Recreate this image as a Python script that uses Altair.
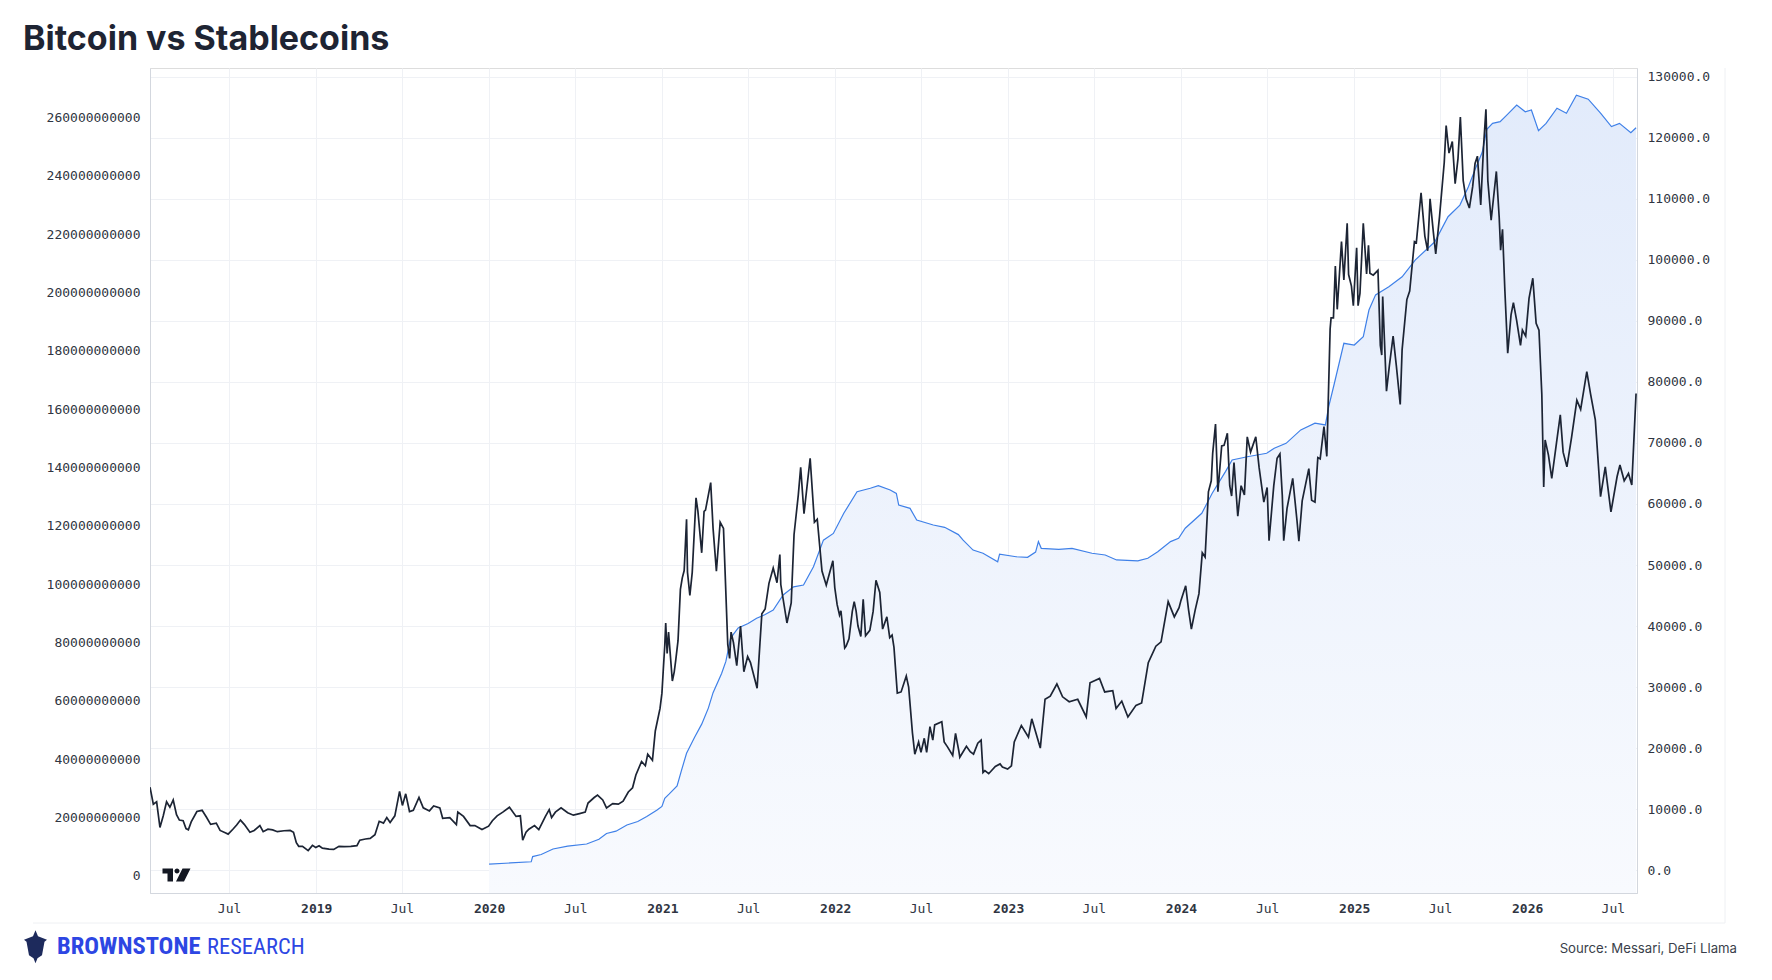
import altair as alt
import pandas as pd

# ---------------- data ----------------
btc_2018 = [
    ("2018-01-15", 13600), ("2018-01-22", 10800), ("2018-01-29", 11200), ("2018-02-05", 7000),
    ("2018-02-12", 8900), ("2018-02-19", 11200), ("2018-02-26", 10300), ("2018-03-05", 11500),
    ("2018-03-12", 9100), ("2018-03-18", 8200), ("2018-03-26", 8100), ("2018-04-01", 6800),
    ("2018-04-06", 6600), ("2018-04-12", 7900), ("2018-04-24", 9600), ("2018-05-05", 9800),
    ("2018-05-14", 8700), ("2018-05-23", 7500), ("2018-06-04", 7700), ("2018-06-12", 6500),
    ("2018-06-24", 6100), ("2018-06-29", 5900), ("2018-07-09", 6700), ("2018-07-17", 7400),
    ("2018-07-25", 8200), ("2018-08-02", 7500), ("2018-08-14", 6200), ("2018-08-23", 6500),
    ("2018-09-04", 7300), ("2018-09-11", 6300), ("2018-09-21", 6700), ("2018-10-01", 6600),
    ("2018-10-11", 6300), ("2018-10-25", 6450), ("2018-11-07", 6500), ("2018-11-14", 6200),
    ("2018-11-20", 4500), ("2018-11-25", 3900), ("2018-12-03", 3900), ("2018-12-15", 3200),
    ("2018-12-24", 4050), ("2018-12-31", 3700),
]
btc_2019 = [
    ("2019-01-07", 4000), ("2019-01-14", 3600), ("2019-01-28", 3450), ("2019-02-07", 3400),
    ("2019-02-18", 3900), ("2019-03-01", 3850), ("2019-03-15", 3900), ("2019-03-28", 4000),
    ("2019-04-03", 4900), ("2019-04-15", 5100), ("2019-04-25", 5200), ("2019-05-05", 5800),
    ("2019-05-14", 8000), ("2019-05-23", 7700), ("2019-05-30", 8600), ("2019-06-06", 7800),
    ("2019-06-16", 8900), ("2019-06-26", 12900), ("2019-07-02", 10600), ("2019-07-09", 12500),
    ("2019-07-17", 9600), ("2019-07-25", 9800), ("2019-08-06", 11900), ("2019-08-15", 10200),
    ("2019-08-28", 9700), ("2019-09-06", 10500), ("2019-09-19", 10200), ("2019-09-25", 8500),
    ("2019-10-10", 8600), ("2019-10-24", 7450), ("2019-10-27", 9500), ("2019-11-08", 8800),
    ("2019-11-22", 7300), ("2019-12-02", 7300), ("2019-12-17", 6650), ("2019-12-31", 7200),
]
btc_2020 = [
    ("2020-01-08", 8100), ("2020-01-18", 8900), ("2020-01-30", 9500), ("2020-02-13", 10300),
    ("2020-02-27", 8800), ("2020-03-07", 8900), ("2020-03-12", 4900), ("2020-03-19", 6200),
    ("2020-03-25", 6700), ("2020-04-06", 7300), ("2020-04-15", 6650), ("2020-04-29", 8800),
    ("2020-05-07", 9900), ("2020-05-12", 8600), ("2020-05-20", 9500), ("2020-06-01", 10200),
    ("2020-06-15", 9400), ("2020-06-27", 9000), ("2020-07-10", 9250), ("2020-07-22", 9500),
    ("2020-07-28", 11000), ("2020-08-10", 11900), ("2020-08-17", 12300), ("2020-08-28", 11500),
    ("2020-09-05", 10200), ("2020-09-18", 10900), ("2020-09-30", 10800), ("2020-10-10", 11300),
    ("2020-10-21", 12800), ("2020-10-30", 13500), ("2020-11-06", 15600), ("2020-11-18", 17800),
    ("2020-11-26", 17100), ("2020-12-01", 19000), ("2020-12-11", 18000), ("2020-12-17", 22800),
    ("2020-12-27", 26500), ("2020-12-31", 29000),
]
btc_2021 = [
    ("2021-01-03", 33000), ("2021-01-06", 36800), ("2021-01-08", 40500), ("2021-01-11", 35500),
    ("2021-01-14", 39000), ("2021-01-22", 31000), ("2021-01-26", 32500), ("2021-01-29", 34300),
    ("2021-02-03", 37600), ("2021-02-08", 46000), ("2021-02-12", 47900), ("2021-02-16", 49100),
    ("2021-02-21", 57500), ("2021-02-23", 48800), ("2021-02-28", 45000), ("2021-03-05", 48800),
    ("2021-03-13", 61000), ("2021-03-17", 58800), ("2021-03-25", 52000), ("2021-03-30", 58800),
    ("2021-04-02", 59000), ("2021-04-13", 63500), ("2021-04-18", 56000), ("2021-04-25", 49000),
    ("2021-05-03", 57000), ("2021-05-10", 56000), ("2021-05-13", 49700), ("2021-05-19", 37000),
    ("2021-05-23", 34700), ("2021-05-26", 39000), ("2021-05-31", 37300), ("2021-06-07", 33500),
    ("2021-06-15", 40000), ("2021-06-22", 32500), ("2021-06-30", 35000), ("2021-07-06", 34000),
    ("2021-07-20", 29800), ("2021-07-26", 37200), ("2021-07-30", 42000), ("2021-08-06", 42800),
    ("2021-08-14", 47000), ("2021-08-23", 49500), ("2021-08-31", 47100), ("2021-09-06", 51700),
    ("2021-09-08", 46800), ("2021-09-21", 40500), ("2021-09-30", 43800), ("2021-10-06", 55000),
    ("2021-10-15", 61500), ("2021-10-20", 66000), ("2021-10-27", 58400), ("2021-11-09", 67500),
    ("2021-11-18", 57000), ("2021-11-24", 57500), ("2021-12-04", 49000), ("2021-12-13", 46700),
    ("2021-12-27", 50700), ("2021-12-31", 46300),
]
btc_2022 = [
    ("2022-01-05", 43500), ("2022-01-10", 41800), ("2022-01-13", 42500), ("2022-01-21", 36400),
    ("2022-01-24", 36700), ("2022-01-30", 37900), ("2022-02-06", 42400), ("2022-02-10", 44000),
    ("2022-02-14", 42500), ("2022-02-18", 40000), ("2022-02-24", 38300), ("2022-03-01", 44400),
    ("2022-03-06", 38400), ("2022-03-15", 39300), ("2022-03-22", 42400), ("2022-03-28", 47500),
    ("2022-04-05", 45500), ("2022-04-11", 39500), ("2022-04-20", 41500), ("2022-04-26", 38100),
    ("2022-05-01", 38500), ("2022-05-05", 36500), ("2022-05-12", 29000), ("2022-05-20", 29200),
    ("2022-05-31", 31800), ("2022-06-05", 30000), ("2022-06-13", 22500), ("2022-06-18", 19000),
    ("2022-06-26", 21000), ("2022-07-01", 19300), ("2022-07-08", 21600), ("2022-07-13", 19300),
    ("2022-07-20", 23500), ("2022-07-26", 21300), ("2022-07-30", 23800), ("2022-08-14", 24300),
    ("2022-08-19", 21000), ("2022-08-26", 20200), ("2022-09-06", 18800), ("2022-09-12", 22400),
    ("2022-09-19", 19500), ("2022-09-21", 18500), ("2022-10-05", 20300), ("2022-10-13", 19400),
    ("2022-10-20", 19000), ("2022-10-29", 20800), ("2022-11-05", 21300), ("2022-11-09", 16000),
    ("2022-11-13", 16300), ("2022-11-21", 15800), ("2022-12-05", 17000), ("2022-12-15", 17400),
    ("2022-12-20", 16900), ("2022-12-31", 16550),
]
btc_2023 = [
    ("2023-01-08", 17100), ("2023-01-14", 21000), ("2023-01-29", 23700), ("2023-02-13", 21800),
    ("2023-02-20", 24800), ("2023-03-10", 20000), ("2023-03-20", 28000), ("2023-03-31", 28500),
    ("2023-04-14", 30500), ("2023-04-26", 28400), ("2023-05-10", 27600), ("2023-05-28", 28000),
    ("2023-06-15", 25100), ("2023-06-23", 30700), ("2023-07-13", 31400), ("2023-07-24", 29200),
    ("2023-08-10", 29400), ("2023-08-17", 26500), ("2023-08-29", 27700), ("2023-09-11", 25100),
    ("2023-09-28", 27000), ("2023-10-10", 27400), ("2023-10-24", 34000), ("2023-11-09", 36700),
    ("2023-11-20", 37400), ("2023-12-05", 44000), ("2023-12-18", 41500), ("2023-12-28", 43000),
]
btc_2024 = [
    ("2024-01-01", 44200), ("2024-01-11", 46600), ("2024-01-17", 42700), ("2024-01-23", 39500),
    ("2024-01-31", 42600), ("2024-02-08", 45300), ("2024-02-15", 52000), ("2024-02-21", 51300),
    ("2024-02-28", 62000), ("2024-03-05", 63800), ("2024-03-08", 68300), ("2024-03-14", 73100),
    ("2024-03-19", 62000), ("2024-03-27", 69500), ("2024-04-01", 69600), ("2024-04-08", 71600),
    ("2024-04-13", 63000), ("2024-04-17", 61300), ("2024-04-22", 66800), ("2024-04-30", 58000),
    ("2024-05-07", 63000), ("2024-05-14", 61500), ("2024-05-20", 71000), ("2024-05-27", 68500),
    ("2024-06-07", 71000), ("2024-06-14", 66000), ("2024-06-24", 60300), ("2024-07-01", 62700),
    ("2024-07-05", 54000), ("2024-07-15", 63000), ("2024-07-22", 67500), ("2024-07-28", 68200),
    ("2024-08-02", 61400), ("2024-08-05", 54000), ("2024-08-12", 59300), ("2024-08-24", 64200),
    ("2024-09-02", 57300), ("2024-09-06", 53900), ("2024-09-13", 60500), ("2024-09-27", 65800),
    ("2024-10-03", 60600), ("2024-10-10", 60300), ("2024-10-16", 67600), ("2024-10-21", 67400),
    ("2024-10-29", 72700), ("2024-11-04", 67800), ("2024-11-11", 88700), ("2024-11-13", 90500),
    ("2024-11-18", 90500), ("2024-11-22", 99000), ("2024-11-26", 91900), ("2024-12-05", 103000),
    ("2024-12-10", 96700), ("2024-12-17", 106000), ("2024-12-20", 97600), ("2024-12-26", 95700),
    ("2024-12-30", 92500),
]
btc_2025 = [
    ("2025-01-06", 102000), ("2025-01-09", 92500), ("2025-01-13", 94500), ("2025-01-20", 106000),
    ("2025-01-22", 103700), ("2025-01-27", 97700), ("2025-01-31", 102400), ("2025-02-03", 97800),
    ("2025-02-10", 97500), ("2025-02-20", 98300), ("2025-02-25", 86000), ("2025-02-28", 84400),
    ("2025-03-02", 94000), ("2025-03-10", 78500), ("2025-03-16", 82600), ("2025-03-24", 87500),
    ("2025-03-31", 82500), ("2025-04-08", 76300), ("2025-04-12", 85300), ("2025-04-22", 93500),
    ("2025-04-28", 94900), ("2025-05-08", 103000), ("2025-05-12", 102800), ("2025-05-22", 111000),
    ("2025-05-30", 103900), ("2025-06-05", 101500), ("2025-06-10", 110000), ("2025-06-17", 104500),
    ("2025-06-22", 101000), ("2025-06-30", 107100), ("2025-07-10", 116000), ("2025-07-14", 122000),
    ("2025-07-20", 117500), ("2025-07-27", 119400), ("2025-08-02", 112500), ("2025-08-08", 116600),
    ("2025-08-13", 123400), ("2025-08-19", 113000), ("2025-08-25", 110000), ("2025-09-01", 108500),
    ("2025-09-08", 112000), ("2025-09-13", 115800), ("2025-09-18", 117000), ("2025-09-25", 109000),
    ("2025-10-01", 118600), ("2025-10-06", 124700), ("2025-10-10", 113000), ("2025-10-17", 106500),
    ("2025-10-28", 114500), ("2025-11-03", 107000), ("2025-11-06", 101600), ("2025-11-10", 105000),
    ("2025-11-15", 95000), ("2025-11-21", 84700), ("2025-11-28", 91000), ("2025-12-03", 93000),
    ("2025-12-10", 90000), ("2025-12-18", 86000), ("2025-12-22", 88500), ("2025-12-29", 87500),
]
btc_2026 = [
    ("2026-01-05", 93700), ("2026-01-13", 97000), ("2026-01-20", 89600), ("2026-01-26", 88500),
    ("2026-02-01", 78000), ("2026-02-05", 62800), ("2026-02-08", 70500), ("2026-02-15", 68000),
    ("2026-02-22", 64200), ("2026-03-04", 70000), ("2026-03-12", 74600), ("2026-03-18", 68500),
    ("2026-03-26", 66100), ("2026-04-05", 71000), ("2026-04-16", 77000), ("2026-04-24", 75500),
    ("2026-05-07", 81700), ("2026-05-15", 78000), ("2026-05-25", 73800), ("2026-06-05", 61200),
    ("2026-06-15", 66100), ("2026-06-20", 63000), ("2026-06-27", 58700), ("2026-07-10", 64500),
    ("2026-07-16", 66400), ("2026-07-25", 63800), ("2026-08-03", 65000), ("2026-08-10", 63100),
    ("2026-08-19", 78100),
]

stable_2020_2021 = [
    ("2020-01-01", 4.0), ("2020-02-15", 4.4), ("2020-03-30", 4.8), ("2020-04-02", 6.6),
    ("2020-04-20", 7.3), ("2020-05-15", 9.2), ("2020-06-15", 10.2), ("2020-07-25", 10.9),
    ("2020-08-20", 12.5), ("2020-09-05", 14.5), ("2020-09-25", 15.3), ("2020-10-18", 17.4),
    ("2020-11-10", 18.6), ("2020-11-29", 20.3), ("2020-12-20", 22.5), ("2020-12-31", 23.8),
    ("2021-01-06", 26.6), ("2021-01-15", 28.0), ("2021-02-01", 30.8), ("2021-02-10", 36.0),
    ("2021-02-21", 42.0), ("2021-03-10", 47.5), ("2021-03-25", 52.0), ("2021-04-08", 57.5),
    ("2021-04-18", 62.8), ("2021-05-06", 69.4), ("2021-05-15", 73.5), ("2021-05-25", 81.5),
    ("2021-06-10", 85.0), ("2021-07-01", 86.5), ("2021-07-19", 88.3), ("2021-08-05", 89.5),
    ("2021-08-23", 91.1), ("2021-09-13", 96.3), ("2021-10-05", 99.1), ("2021-10-26", 99.7),
    ("2021-11-16", 106.0), ("2021-12-07", 115.1), ("2021-12-28", 117.4),
]
stable_2022_2023 = [
    ("2022-01-19", 124.3), ("2022-02-16", 131.7), ("2022-03-16", 132.9), ("2022-04-02", 133.8),
    ("2022-04-27", 132.3), ("2022-05-10", 131.1), ("2022-05-15", 127.1), ("2022-06-08", 126.0),
    ("2022-06-22", 122.0), ("2022-07-27", 120.3), ("2022-08-20", 119.5), ("2022-09-18", 117.0),
    ("2022-09-28", 115.1), ("2022-10-19", 111.7), ("2022-11-09", 110.6), ("2022-12-10", 107.7),
    ("2022-12-14", 110.3), ("2023-01-18", 109.4), ("2023-02-11", 109.2), ("2023-02-28", 111.0),
    ("2023-03-06", 114.6), ("2023-03-12", 112.3), ("2023-04-18", 111.9), ("2023-05-16", 112.3),
    ("2023-06-27", 110.6), ("2023-07-25", 110.0), ("2023-08-18", 108.3), ("2023-10-02", 108.0),
    ("2023-10-23", 108.9), ("2023-11-13", 111.1), ("2023-12-10", 114.6), ("2023-12-27", 115.7),
]
stable_2024_2026 = [
    ("2024-01-10", 119.2), ("2024-02-14", 124.3), ("2024-03-07", 131.2), ("2024-04-04", 138.6),
    ("2024-04-18", 142.6), ("2024-05-20", 143.7), ("2024-06-30", 144.9), ("2024-07-16", 146.6),
    ("2024-08-10", 148.3), ("2024-09-10", 152.9), ("2024-10-10", 155.2), ("2024-11-01", 154.6),
    ("2024-11-08", 160.9), ("2024-11-20", 168.9), ("2024-12-10", 182.6), ("2025-01-01", 182.0),
    ("2025-01-20", 184.9), ("2025-02-01", 194.0), ("2025-02-15", 199.2), ("2025-03-15", 202.0),
    ("2025-04-12", 205.4), ("2025-05-10", 211.2), ("2025-06-20", 217.4), ("2025-07-18", 226.0),
    ("2025-08-12", 230.0), ("2025-08-30", 236.3), ("2025-09-15", 243.0), ("2025-09-28", 248.0),
    ("2025-10-08", 256.0), ("2025-10-20", 258.0), ("2025-11-05", 258.6), ("2025-11-20", 261.0),
    ("2025-12-10", 264.3), ("2025-12-28", 262.0), ("2026-01-10", 262.6), ("2026-01-25", 255.5),
    ("2026-02-10", 258.0), ("2026-03-05", 263.2), ("2026-03-25", 261.5), ("2026-04-15", 267.7),
    ("2026-05-10", 266.3), ("2026-06-05", 261.5), ("2026-06-28", 256.9), ("2026-07-15", 258.0),
    ("2026-08-08", 254.8), ("2026-08-19", 256.5),
]

left_ticks_bn = [0, 20, 40, 60, 80, 100, 120, 140, 160, 180, 200, 220, 240, 260]
right_ticks = [0, 10000, 20000, 30000, 40000, 50000, 60000, 70000, 80000, 90000,
               100000, 110000, 120000, 130000]
x_tick_dates = ["2018-07-01", "2019-01-01", "2019-07-01", "2020-01-01", "2020-07-01",
                "2021-01-01", "2021-07-01", "2022-01-01", "2022-07-01", "2023-01-01",
                "2023-07-01", "2024-01-01", "2024-07-01", "2025-01-01", "2025-07-01",
                "2026-01-01", "2026-07-01"]
x_domain = ["2018-01-15", "2026-08-21"]
left_domain_bn = [-5.9, 277.0]
right_domain = [-3750, 131450]

title_text = "Bitcoin vs Stablecoins"
source_text = "Source: Messari, DeFi Llama"
brand_bold = "BROWNSTONE"
brand_light = "RESEARCH"

# ---------------- helpers ----------------
def dt(s):
    y, m, d = (int(p) for p in s.split("-"))
    return alt.DateTime(year=y, month=m, date=d, utc=True)

btc_rows = btc_2018 + btc_2019 + btc_2020 + btc_2021 + btc_2022 + btc_2023 + btc_2024 + btc_2025 + btc_2026
st_rows = stable_2020_2021 + stable_2022_2023 + stable_2024_2026
btc_df = pd.DataFrame({"date": [d for d, _ in btc_rows], "price": [p for _, p in btc_rows]})
st_df = pd.DataFrame({"date": [d for d, _ in st_rows], "cap": [v * 1e9 for _, v in st_rows]})
one = pd.DataFrame({"k": [0]})

W, H = 1487, 825
MONO = "DejaVu Sans Mono"
LABEL_COLOR = "#2f3542"
GRID = "#eff1f5"
DOMAIN = "#d3d7de"

x_axis = alt.Axis(
    values=[dt(s) for s in x_tick_dates],
    labelExpr="utcmonth(datum.value) == 0 ? utcFormat(datum.value, '%Y') : 'Jul'",
    labelFontWeight={"condition": {"test": "utcmonth(datum.value) == 0", "value": "bold"},
                     "value": "normal"},
    title=None, ticks=False, grid=True, gridColor=GRID, gridWidth=1,
    domainColor=DOMAIN, labelFont=MONO, labelFontSize=13, labelColor=LABEL_COLOR,
    labelPadding=9, labelFlush=False, labelOverlap=False,
)
x_enc = alt.X("date:T", scale=alt.Scale(type="utc", domain=[dt(s) for s in x_domain]),
              axis=x_axis)

left_axis = alt.Axis(
    orient="left", values=[v * 1e9 for v in left_ticks_bn], format="d", title=None,
    grid=False, ticks=False, domainColor=DOMAIN, labelFont=MONO, labelFontSize=13,
    labelColor=LABEL_COLOR, labelPadding=10, labelFlush=False, labelOverlap=False,
)
right_axis = alt.Axis(
    orient="right", values=right_ticks, format=".1f", title=None,
    grid=True, gridColor=GRID, gridWidth=1, ticks=False, domainColor=DOMAIN,
    labelFont=MONO, labelFontSize=13, labelColor=LABEL_COLOR, labelPadding=10,
    labelFlush=False, labelOverlap=False,
)
left_scale = alt.Scale(domain=[v * 1e9 for v in left_domain_bn], nice=False, zero=False)
right_scale = alt.Scale(domain=right_domain, nice=False, zero=False)

area = alt.Chart(st_df).mark_area(
    color=alt.Gradient(
        gradient="linear",
        stops=[alt.GradientStop(color="#e2ebfb", offset=0),
               alt.GradientStop(color="#f8fafe", offset=1)],
        x1=1, x2=1, y1=0, y2=1,
    ),
    clip=True,
).encode(
    x=x_enc,
    y=alt.Y("cap:Q", scale=left_scale, axis=left_axis),
    y2=alt.datum(left_domain_bn[0] * 1e9),
)
sline = alt.Chart(st_df).mark_line(color="#3f80e8", strokeWidth=1.2, clip=True).encode(
    x=x_enc,
    y=alt.Y("cap:Q", scale=left_scale, axis=left_axis),
)
stable = alt.layer(area, sline)

btc = alt.Chart(btc_df).mark_line(color="#1c2434", strokeWidth=1.7, clip=True).encode(
    x=x_enc,
    y=alt.Y("price:Q", scale=right_scale, axis=right_axis),
)

# ---------------- decorations ----------------
frame_right = alt.Chart(one).mark_rule(color="#eef0f3", strokeWidth=1).encode(
    x=alt.value(1575), y=alt.value(0), y2=alt.value(855))
frame_bottom = alt.Chart(one).mark_rule(color="#eef0f3", strokeWidth=1).encode(
    x=alt.value(-117), x2=alt.value(1575), y=alt.value(855))

tv_path = ("M-1,-0.464 L-0.25,-0.464 L-0.25,0.464 L-0.643,0.464 L-0.643,-0.107 L-1,-0.107 Z "
           "M-0.143,-0.286 A0.179,0.179 0 1,0 0.215,-0.286 A0.179,0.179 0 1,0 -0.143,-0.286 Z "
           "M0.429,-0.464 L1,-0.464 L0.536,0.464 L-0.036,0.464 Z")
tv_logo = alt.Chart(one).mark_point(shape=tv_path, filled=True, color="#131722",
                                    opacity=1, size=784, strokeWidth=0).encode(
    x=alt.value(26.5), y=alt.value(807))

lantern_path = ("M0,-1 L0.152,-0.636 L0.697,-0.424 L0.545,-0.303 L0.394,0.515 L0.121,0.697 "
                "L0,1 L-0.121,0.697 L-0.394,0.515 L-0.545,-0.303 L-0.697,-0.424 L-0.152,-0.636 Z")
lantern = alt.Chart(one).mark_point(shape=lantern_path, filled=True, color="#1d2a5c",
                                    opacity=1, size=1089, strokeWidth=0).encode(
    x=alt.value(-114.5), y=alt.value(878.7))

BRAND_FONT = "'Liberation Sans Narrow', 'Arial Narrow', 'Roboto Condensed', 'DejaVu Sans Condensed', sans-serif"
brand1 = alt.Chart(one).mark_text(
    text=brand_bold, font=BRAND_FONT, fontSize=24.5, fontWeight="bold",
    color="#2d46e3", align="left", baseline="middle").encode(
    x=alt.value(-93), y=alt.value(879))
brand2 = alt.Chart(one).mark_text(
    text=brand_light, font=BRAND_FONT, fontSize=22.5, fontWeight="normal",
    color="#2d46e3", align="left", baseline="middle").encode(
    x=alt.value(57), y=alt.value(879))
source = alt.Chart(one).mark_text(
    text=source_text, font="Inter", fontSize=13.2, color="#3a3f4b",
    align="right", baseline="middle").encode(
    x=alt.value(1587), y=alt.value(881))

chart = alt.layer(
    stable, btc, frame_right, frame_bottom, tv_logo, lantern, brand1, brand2, source
).resolve_scale(y="independent").properties(
    width=W, height=H,
    title=alt.Title(title_text, anchor="start", frame="group", dx=-127, dy=33, offset=17,
                    baseline="alphabetic", fontSize=34, font="Inter", fontWeight=700,
                    color="#1e2433"),
    padding={"left": 142, "top": 60, "right": 127, "bottom": 79},
    autosize=alt.AutoSizeParams(type="none"),
).configure_view(strokeWidth=0).configure(background="white")

chart.save("out.html", embed_options={"renderer": "svg", "actions": False})
